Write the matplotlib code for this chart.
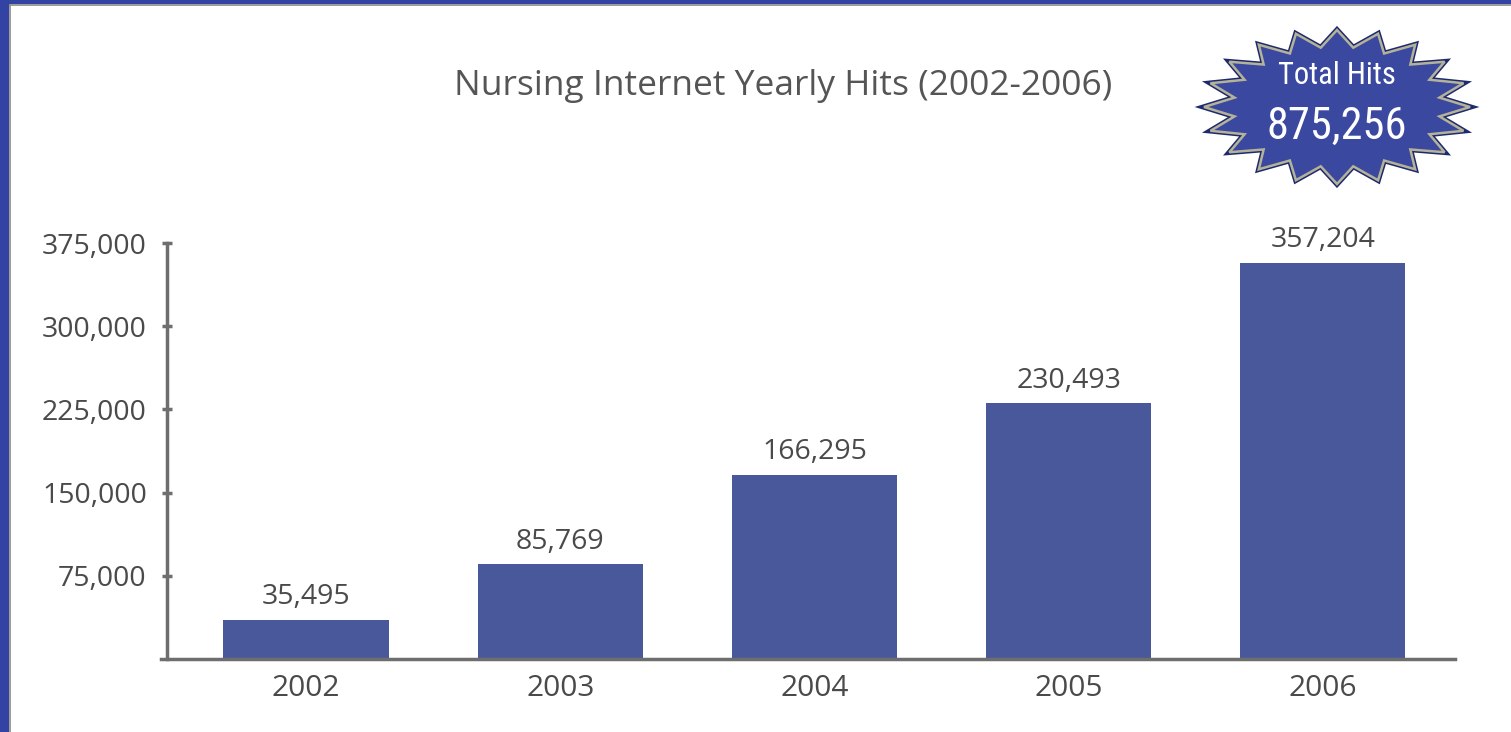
import matplotlib.pyplot as plt
import numpy as np
from matplotlib.patches import Polygon, Rectangle

years = ['2002', '2003', '2004', '2005', '2006']
hits = [35495, 85769, 166295, 230493, 357204]
total_hits = 875256
y_ticks = [75000, 150000, 225000, 300000, 375000]

bar_color = '#48589a'
axis_gray = '#6e6e6e'
text_gray = '#4a4a4a'

plt.rcParams['font.family'] = ['Open Sans', 'DejaVu Sans']

fig = plt.figure(figsize=(15.11, 7.32), dpi=100)
fig.patch.set_facecolor('white')

# blue frame on top and left edges
fig.patches.append(Rectangle((0, 0), 9 / 1511, 1, transform=fig.transFigure,
                             facecolor='#3343a3', edgecolor='none'))
fig.patches.append(Rectangle((0, 1 - 4 / 732), 1, 4 / 732, transform=fig.transFigure,
                             facecolor='#3343a3', edgecolor='none'))
fig.lines.append(plt.Line2D([10 / 1511, 10 / 1511], [0, 1 - 5 / 732], transform=fig.transFigure,
                            color='#8a8a8a', lw=1.2))
fig.lines.append(plt.Line2D([10 / 1511, 1], [1 - 5 / 732, 1 - 5 / 732], transform=fig.transFigure,
                            color='#8a8a8a', lw=1.2))

ax = fig.add_axes([167 / 1511, 73 / 732, (1455 - 167) / 1511, (659 - 243) / 732])
x = np.arange(len(years))
ax.bar(x, hits, width=0.65, color=bar_color)

for xi, v in zip(x, hits):
    ax.annotate(f'{v:,}', (xi, v), xytext=(0, 6), textcoords='offset points',
                ha='center', va='bottom', fontsize=20.5, color=text_gray, clip_on=False)

ax.set_xlim(-0.547, 4.52)
ax.set_ylim(0, 375000)
ax.set_xticks(x)
ax.set_xticklabels(years)
ax.set_yticks(y_ticks)
ax.set_yticklabels([f'{t:,}' for t in y_ticks])
ax.tick_params(axis='x', length=0, pad=11, labelsize=21.5, labelcolor=text_gray)
ax.tick_params(axis='y', direction='inout', length=7, width=2.5, color=axis_gray,
               pad=11, labelsize=20.5, labelcolor=text_gray)
for s in ['top', 'right']:
    ax.spines[s].set_visible(False)
for s in ['left', 'bottom']:
    ax.spines[s].set_color(axis_gray)
    ax.spines[s].set_linewidth(2.5)
ax.spines['bottom'].set_bounds(-0.57, 4.52)

fig.text(783 / 1511, 1 - 86 / 732, 'Nursing Internet Yearly Hits (2002-2006)',
         ha='center', va='center', fontsize=25.5, color='#555555')

# starburst badge
cx, cy = 1337, 732 - 107
n = 20
ang = np.linspace(0, 2 * np.pi, 2 * n, endpoint=False) + np.pi / 2
r = np.where(np.arange(2 * n) % 2 == 0, 1.0, 0.78)
px = cx + 133 * r * np.cos(ang)
py = cy + 77 * r * np.sin(ang)
verts = np.column_stack([px / 1511, py / 732])
fig.patches.append(Polygon(verts, closed=True, transform=fig.transFigure,
                           facecolor='#1e2a6e', edgecolor='#1e2a6e', lw=4))
fig.patches.append(Polygon(verts, closed=True, transform=fig.transFigure,
                           facecolor='#3a48a0', edgecolor='#b5b29a', lw=1.8))

badge_font = ['Liberation Sans Narrow', 'Roboto Condensed', 'Open Sans Condensed',
              'DejaVu Sans']
fig.text(cx / 1511, 1 - 75 / 732, 'Total Hits', ha='center', va='center',
         fontsize=22, color='white', family=badge_font, stretch='condensed')
fig.text(cx / 1511, 1 - 127 / 732, f'{total_hits:,}', ha='center', va='center',
         fontsize=32, color='white', family=badge_font, stretch='condensed')

fig.savefig('out.png', dpi=100)
plt.close(fig)
